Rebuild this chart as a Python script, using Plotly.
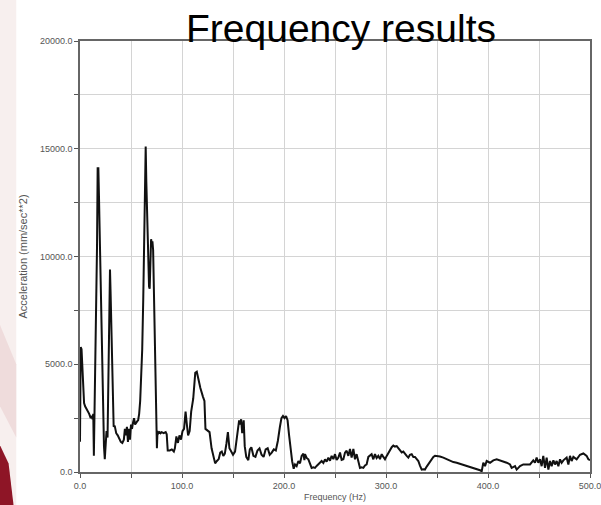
import plotly.graph_objects as go

# Frequency spectrum: frequency (Hz) and acceleration (mm/sec**2)
freq_hz = [
    0, 0.7, 1.5, 2.3, 3, 4, 5, 7, 9, 10.5, 11.5, 12.3, 13, 13.6, 14.2, 15, 16, 16.7, 17.3, 18,
    18.6, 19.5, 20.5, 21.5, 22.5, 23.5, 24.3, 25, 26, 27, 28, 28.8, 29.4, 30, 30.6, 31.3, 32, 33, 34, 35.5,
    37, 38.5, 40, 41.5, 43, 44, 45, 46, 47, 48, 49, 50, 51, 52, 53, 54, 55, 56, 57, 58,
    59, 60, 61, 62, 63, 63.8, 64.4, 65, 65.6, 66.3, 67, 67.7, 68.3, 69, 69.7, 70.4, 71, 71.7, 72.4, 73.2,
    74, 74.8, 75.4, 76, 77, 78, 79, 80, 82, 84, 85, 86, 88, 90, 92, 93, 94.5, 96, 97.5, 99,
    100.5, 102, 103.5, 105, 106, 107.5, 109, 111, 113, 114.5, 116, 118, 120.5, 122, 123, 125, 127, 129, 131, 132.5,
    134, 136, 137.5, 139, 140.5, 142, 143.5, 145, 146.5, 148, 150, 152, 153.5, 155, 156, 157, 158, 159, 160.5, 161.5,
    163, 165, 166.5, 168, 170, 172, 174, 176, 178, 180, 182, 184, 186, 188, 190, 192, 194, 196, 197.5, 199,
    200.5, 202, 203.5, 205, 206.5, 208, 209.5, 210.8, 212.4, 214.1, 215.7, 217.3, 219, 220, 220.6, 222.2, 223.9, 225.5, 227.1, 228.8,
    230.4, 232, 233.7, 235.3, 236.9, 238.6, 240.2, 241.8, 243.5, 245.1, 246.7, 248.4, 250, 251.6, 253.3, 254.9, 256.5, 258.2, 259.8, 261.4,
    263.1, 264.7, 266.3, 268, 269.6, 271.2, 272.9, 274.5, 276.1, 277.8, 279.4, 281, 282.7, 284.3, 285.9, 287.6, 289.2, 290.8, 292.5, 294.1,
    295.8, 297.4, 299, 300.7, 302.3, 303.9, 305.6, 307.2, 308.8, 310.5, 312.1, 313.7, 315.4, 317, 318.6, 320.3, 321.9, 323.5, 325.2, 326.8,
    328.4, 330.1, 331.7, 333.3, 335, 336.6, 338.2, 339.9, 341.5, 343.1, 344.8, 346.4, 348, 349.7, 352.9, 356.2, 359.5, 362.7, 366, 369.3,
    372.5, 375.8, 379.1, 382.4, 385.6, 388.9, 392.2, 393.8, 395.4, 397.1, 398.7, 402, 405.2, 408.5, 411.8, 415, 418.3, 421.6, 423.2, 426.5,
    428.1, 431.4, 434.6, 437.9, 441.2, 444.4, 446.1, 447.7, 449.3, 451, 452.6, 454.2, 455.9, 457.5, 459.2, 460.8, 462.4, 464.1, 465.7, 467.3,
    469, 470.6, 472.2, 473.9, 477.1, 478.8, 480.4, 482, 483.7, 486.9, 490.2, 493.5, 496.7, 498.4, 500,
]
accel_mm_s2 = [
    1400, 5800, 5700, 4600, 3600, 3200, 3050, 2900, 2700, 2500, 2600, 2450, 2700, 750, 2600, 3200, 6500, 10500, 14100, 14100,
    12800, 10600, 8000, 5900, 3000, 1200, 600, 1300, 1900, 1600, 4800, 7500, 9400, 8300, 7000, 4500, 2900, 2100, 2150, 1800,
    1700, 1500, 1400, 1350, 1500, 2000, 1700, 2100, 1400, 2000, 1500, 2200, 2000, 2300, 2500, 2200, 2300, 2350, 2400, 2700,
    3300, 4400, 5700, 8000, 11000, 13100, 15100, 13500, 12200, 10600, 9400, 8600, 8500, 9500, 10800, 10600, 10700, 10300, 8700, 7000,
    5200, 3000, 1100, 1900, 1800, 1850, 1800, 1850, 1800, 1850, 1750, 1000, 1000, 1050, 950, 1100, 1650, 1350, 1700, 1500,
    1900, 2000, 2800, 2100, 1700, 1900, 2800, 3400, 4600, 4650, 4300, 3900, 3500, 3300, 2000, 1900, 1850, 1100, 700, 400,
    500, 600, 900, 950, 750, 850, 1300, 1850, 1100, 950, 800, 950, 1500, 1800, 2400, 2200, 2450, 1800, 2400, 1200,
    700, 550, 1050, 1150, 750, 700, 1000, 1100, 800, 700, 1050, 1100, 800, 900, 1050, 1000, 1450, 2100, 2500, 2600,
    2500, 2600, 2400, 1700, 1000, 500, 150, 350, 270, 509, 400, 748, 850, 550, 830, 650, 589, 350, 191, 220,
    191, 280, 350, 430, 509, 420, 589, 480, 669, 520, 748, 600, 828, 560, 669, 907, 560, 589, 900, 987,
    748, 1067, 669, 1067, 589, 828, 430, 191, 220, 191, 300, 350, 700, 748, 828, 589, 828, 650, 748, 600,
    828, 700, 589, 748, 900, 1067, 1150, 1226, 1180, 1200, 1100, 1000, 907, 950, 828, 750, 669, 800, 828, 700,
    700, 600, 509, 300, 111, 130, 111, 250, 350, 500, 589, 700, 748, 748, 720, 669, 589, 509, 462, 430,
    382, 318, 271, 239, 191, 111, 80, 30, 430, 271, 509, 430, 541, 589, 541, 509, 430, 350, 191, 271,
    111, 271, 350, 350, 350, 541, 430, 669, 430, 589, 271, 748, 191, 669, 111, 509, 271, 541, 350, 509,
    271, 589, 430, 541, 669, 350, 748, 509, 700, 589, 800, 860, 748, 589, 550,
]

x_tick_vals = [0, 100, 200, 300, 400, 500]
x_tick_text = ["0.0", "100.0", "200.0", "300.0", "400.0", "500.0"]
y_tick_vals = [0, 5000, 10000, 15000, 20000]
y_tick_text = ["0.0", "5000.0", "10000.0", "15000.0", "20000.0"]

FONT = "Liberation Sans, Arial, sans-serif"
tick_font = dict(family=FONT, size=9, color="#555555")

fig = go.Figure()
fig.add_trace(go.Scatter(
    x=freq_hz, y=accel_mm_s2, mode="lines",
    line=dict(color="#111111", width=2),
    showlegend=False, hoverinfo="x+y",
))

# slide backdrop on the left edge (pale band and dark red corner)
fig.add_shape(type="path", xref="paper", yref="paper", layer="below",
              path="M -0.16 1.1 L -0.125 1.1 L -0.125 -0.08 L -0.16 -0.08 Z",
              fillcolor="#f7efee", line=dict(width=0))
fig.add_shape(type="path", xref="paper", yref="paper", layer="below",
              path="M -0.16 0.35 L -0.125 0.25 L -0.125 0.08 L -0.16 0.16 Z",
              fillcolor="#efdcdc", line=dict(width=0))
fig.add_shape(type="path", xref="paper", yref="paper", layer="below",
              path="M -0.16 0.07 L -0.14 0.02 L -0.13 -0.08 L -0.16 -0.08 Z",
              fillcolor="#8e1526", line=dict(width=0))

fig.add_annotation(
    text="Frequency results", xref="paper", yref="paper",
    x=0.512, y=1.03, xanchor="center", yanchor="middle", showarrow=False,
    font=dict(family=FONT, size=39, color="#000000"),
)

fig.update_layout(
    width=601, height=505,
    margin=dict(l=80, r=11, t=41, b=33),
    paper_bgcolor="#ffffff", plot_bgcolor="#ffffff",
    xaxis=dict(
        range=[0, 500], tickvals=x_tick_vals, ticktext=x_tick_text,
        showgrid=True, gridcolor="#d4d4d4", gridwidth=1,
        minor=dict(dtick=50, showgrid=True, gridcolor="#d4d4d4", ticks="outside", ticklen=4, tickcolor="#555555"),
        ticks="outside", ticklen=4, tickcolor="#555555",
        showline=True, linecolor="#666666", linewidth=1.5, mirror=True,
        zeroline=False, tickfont=tick_font, automargin=False, ticklabeloverflow="allow",
        title=dict(text="Frequency (Hz)", font=dict(family=FONT, size=9, color="#555555"), standoff=4),
    ),
    yaxis=dict(
        range=[0, 20000], tickvals=y_tick_vals, ticktext=y_tick_text,
        showgrid=True, gridcolor="#d4d4d4", gridwidth=1,
        minor=dict(dtick=2500, showgrid=True, gridcolor="#d4d4d4", ticks="outside", ticklen=4, tickcolor="#555555"),
        ticks="outside", ticklen=4, tickcolor="#555555",
        showline=True, linecolor="#666666", linewidth=1.5, mirror=True,
        zeroline=False, tickfont=tick_font, automargin=False, ticklabeloverflow="allow",
        title=dict(text="Acceleration (mm/sec**2)", font=dict(family=FONT, size=11, color="#555555"), standoff=10),
    ),
)

fig.write_html("out.html")
